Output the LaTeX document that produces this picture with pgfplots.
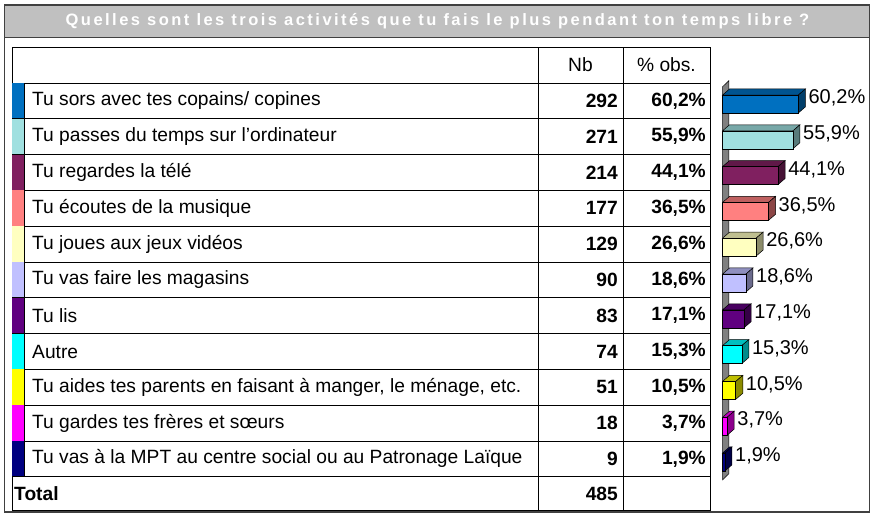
\documentclass[border=0pt]{standalone}
\usepackage{fontspec}
\setmainfont{Liberation Sans}
\newfontfamily\titlefont[LetterSpace=15]{Liberation Sans}
\usepackage{pgfplots}
\pgfplotsset{compat=1.18}
\definecolor{c1}{RGB}{0,112,192}
\definecolor{c2}{RGB}{160,224,224}
\definecolor{c3}{RGB}{128,32,96}
\definecolor{c4}{RGB}{255,128,128}
\definecolor{c5}{RGB}{255,255,192}
\definecolor{c6}{RGB}{192,192,255}
\definecolor{c7}{RGB}{96,0,128}
\definecolor{c8}{RGB}{0,255,255}
\definecolor{c9}{RGB}{255,255,0}
\definecolor{c10}{RGB}{255,0,255}
\definecolor{c11}{RGB}{0,0,128}
\definecolor{titlegray}{RGB}{192,192,192}
\definecolor{framegray}{RGB}{64,64,64}
\definecolor{wallgray}{RGB}{128,128,128}
\newcommand\tf{\fontsize{19.2}{21}\selectfont}
\newcommand\row[5]{%
  \pgfmathsetmacro\yt{83+(#1-1)*35.8}%
  \pgfmathsetmacro\yb{83+#1*35.8}%
  \pgfmathsetmacro\yc{83+(#1-0.5)*35.8}%
  \fill[#5] (12,\yt) rectangle (24,\yb);
  \draw[tl] (12,\yb) -- (710,\yb);
  \draw[tl] (24,\yt) -- (24,\yb);
  \node[anchor=west,inner sep=0pt,font=\tf] at (32,\yc) {#2};
  \node[anchor=east,inner sep=0pt,font=\tf\bfseries] at (618,\yc) {#3};
  \node[anchor=east,inner sep=0pt,font=\tf\bfseries] at (706,\yc) {#4};
}
\pgfplotsset{
  face/.style={draw=black, line width=0.5pt, mark=none},
  front/.style={xbar, bar width=18pt, bar shift=0pt, fill=#1, draw=black, line width=0.5pt,
    nodes near coords, point meta=explicit symbolic,
    nodes near coords style={anchor=west, inner sep=0pt, xshift=10pt, yshift=6pt,
      font=\fontsize{20}{22}\selectfont, text=black}},
}
\begin{document}
\begin{tikzpicture}
\begin{scope}[x=1pt,y=-1pt, tl/.style={draw=black, line width=0.9pt}]
\path[use as bounding box] (0,0) rectangle (871,514);
\fill[titlegray] (4.5,5) rectangle (869.5,37);
\draw[framegray, line width=1pt] (4.5,37) -- (869.5,37);
\draw[framegray, line width=1.5pt] (4.5,5) rectangle (869.5,512);
\node[text=white, inner sep=0pt, font=\titlefont\bfseries\fontsize{16.5}{18}\selectfont] at (437.5,21)
  {Quelles sont les trois activités que tu fais le plus pendant ton temps libre ?};
% table frame
\draw[tl] (12,47) rectangle (710,510);
\draw[tl] (12,83) -- (710,83);
\draw[tl] (538,47) -- (538,510);
\draw[tl] (623,47) -- (623,510);
\node[inner sep=0pt,font=\tf] at (580.5,65) {Nb};
\node[inner sep=0pt,font=\tf] at (666.5,65) {\% obs.};
\row{1}{Tu sors avec tes copains/ copines}{292}{60,2\%}{c1}
\row{2}{Tu passes du temps sur l'ordinateur}{271}{55,9\%}{c2}
\row{3}{Tu regardes la télé}{214}{44,1\%}{c3}
\row{4}{Tu écoutes de la musique}{177}{36,5\%}{c4}
\row{5}{Tu joues aux jeux vidéos}{129}{26,6\%}{c5}
\row{6}{Tu vas faire les magasins}{90}{18,6\%}{c6}
\row{7}{Tu lis}{83}{17,1\%}{c7}
\row{8}{Autre}{74}{15,3\%}{c8}
\row{9}{Tu aides tes parents en faisant à manger, le ménage, etc.}{51}{10,5\%}{c9}
\row{10}{Tu gardes tes frères et sœurs}{18}{3,7\%}{c10}
\row{11}{Tu vas à la MPT au centre social ou au Patronage Laïque}{9}{1,9\%}{c11}
\node[anchor=west,inner sep=0pt,font=\tf\bfseries] at (14,493.4) {Total};
\node[anchor=east,inner sep=0pt,font=\tf\bfseries] at (618,493.4) {485};
\end{scope}
\begin{axis}[at={(722.5pt,-479.9pt)}, anchor=south west, scale only axis,
  width=126pt, height=393.8pt, xmin=0, xmax=100, ymin=0.5, ymax=11.5,
  y dir=reverse, hide axis, clip=false]
\addplot[face, fill=wallgray] coordinates {(0,0.52) (5,0.35) (5,11.33) (0,11.5)} --cycle;
% 1
\addplot[face, fill=c1!75!black] coordinates {(0,0.75) (60.2,0.75) (65.8,0.58) (5.6,0.58)} --cycle;
\addplot[face, fill=c1!55!black] coordinates {(60.2,0.75) (65.8,0.58) (65.8,1.08) (60.2,1.25)} --cycle;
\addplot[front=c1] coordinates {(60.2,1) [60,2\%]};
% 2
\addplot[face, fill=c2!75!black] coordinates {(0,1.75) (55.9,1.75) (61.5,1.58) (5.6,1.58)} --cycle;
\addplot[face, fill=c2!55!black] coordinates {(55.9,1.75) (61.5,1.58) (61.5,2.08) (55.9,2.25)} --cycle;
\addplot[front=c2] coordinates {(55.9,2) [55,9\%]};
% 3
\addplot[face, fill=c3!75!black] coordinates {(0,2.75) (44.1,2.75) (49.7,2.58) (5.6,2.58)} --cycle;
\addplot[face, fill=c3!55!black] coordinates {(44.1,2.75) (49.7,2.58) (49.7,3.08) (44.1,3.25)} --cycle;
\addplot[front=c3] coordinates {(44.1,3) [44,1\%]};
% 4
\addplot[face, fill=c4!75!black] coordinates {(0,3.75) (36.5,3.75) (42.1,3.58) (5.6,3.58)} --cycle;
\addplot[face, fill=c4!55!black] coordinates {(36.5,3.75) (42.1,3.58) (42.1,4.08) (36.5,4.25)} --cycle;
\addplot[front=c4] coordinates {(36.5,4) [36,5\%]};
% 5
\addplot[face, fill=c5!75!black] coordinates {(0,4.75) (26.6,4.75) (32.2,4.58) (5.6,4.58)} --cycle;
\addplot[face, fill=c5!55!black] coordinates {(26.6,4.75) (32.2,4.58) (32.2,5.08) (26.6,5.25)} --cycle;
\addplot[front=c5] coordinates {(26.6,5) [26,6\%]};
% 6
\addplot[face, fill=c6!75!black] coordinates {(0,5.75) (18.6,5.75) (24.2,5.58) (5.6,5.58)} --cycle;
\addplot[face, fill=c6!55!black] coordinates {(18.6,5.75) (24.2,5.58) (24.2,6.08) (18.6,6.25)} --cycle;
\addplot[front=c6] coordinates {(18.6,6) [18,6\%]};
% 7
\addplot[face, fill=c7!75!black] coordinates {(0,6.75) (17.1,6.75) (22.7,6.58) (5.6,6.58)} --cycle;
\addplot[face, fill=c7!55!black] coordinates {(17.1,6.75) (22.7,6.58) (22.7,7.08) (17.1,7.25)} --cycle;
\addplot[front=c7] coordinates {(17.1,7) [17,1\%]};
% 8
\addplot[face, fill=c8!75!black] coordinates {(0,7.75) (15.3,7.75) (20.9,7.58) (5.6,7.58)} --cycle;
\addplot[face, fill=c8!55!black] coordinates {(15.3,7.75) (20.9,7.58) (20.9,8.08) (15.3,8.25)} --cycle;
\addplot[front=c8] coordinates {(15.3,8) [15,3\%]};
% 9
\addplot[face, fill=c9!75!black] coordinates {(0,8.75) (10.5,8.75) (16.1,8.58) (5.6,8.58)} --cycle;
\addplot[face, fill=c9!55!black] coordinates {(10.5,8.75) (16.1,8.58) (16.1,9.08) (10.5,9.25)} --cycle;
\addplot[front=c9] coordinates {(10.5,9) [10,5\%]};
% 10
\addplot[face, fill=c10!75!black] coordinates {(0,9.75) (3.7,9.75) (9.3,9.58) (5.6,9.58)} --cycle;
\addplot[face, fill=c10!55!black] coordinates {(3.7,9.75) (9.3,9.58) (9.3,10.08) (3.7,10.25)} --cycle;
\addplot[front=c10] coordinates {(3.7,10) [3,7\%]};
% 11
\addplot[face, fill=c11!75!black] coordinates {(0,10.75) (1.9,10.75) (7.5,10.58) (5.6,10.58)} --cycle;
\addplot[face, fill=c11!55!black] coordinates {(1.9,10.75) (7.5,10.58) (7.5,11.08) (1.9,11.25)} --cycle;
\addplot[front=c11] coordinates {(1.9,11) [1,9\%]};
\end{axis}
\end{tikzpicture}
\end{document}
